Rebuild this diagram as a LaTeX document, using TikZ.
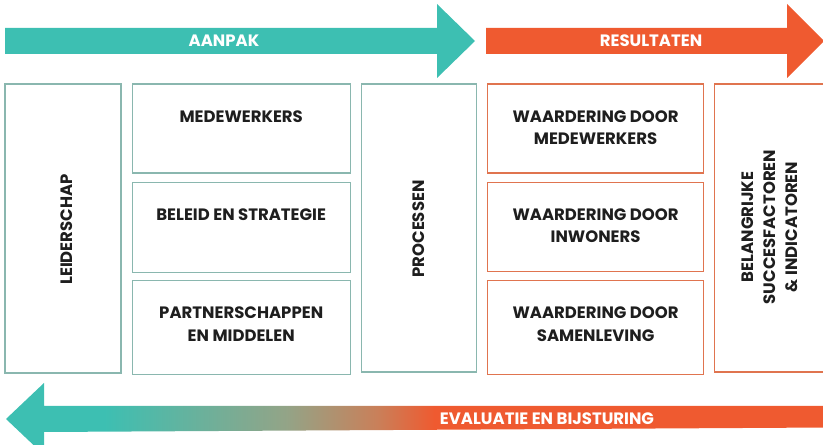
\documentclass[tikz,border=0pt]{standalone}
\usepackage{fontspec}
\setmainfont{Poppins}
\usetikzlibrary{positioning}
\definecolor{aanpakkleur}{HTML}{3DBFB2}
\definecolor{resultaatkleur}{HTML}{EF5A30}
\definecolor{aanpaklijn}{HTML}{8AB7AF}
\definecolor{resultaatlijn}{HTML}{E0744F}
\definecolor{overgang1}{HTML}{93A487}
\definecolor{overgang2}{HTML}{C9805A}
\definecolor{tekst}{HTML}{1E1E1E}
\pgfdeclarehorizontalshading{evaluatie}{100bp}{color(0bp)=(aanpakkleur); color(31bp)=(aanpakkleur); color(42bp)=(overgang1); color(47.5bp)=(overgang2); color(51bp)=(resultaatkleur); color(100bp)=(resultaatkleur)}
\newcommand\vakfont{\fontsize{16.5}{22.3}\selectfont\bfseries}
\newcommand\pijlfont{\fontsize{16.5}{20}\selectfont\bfseries}
\begin{document}
\begin{tikzpicture}[x=1pt, y=1pt, node distance=8pt, aanpak box/.style={rectangle, draw=aanpaklijn, line width=1.2pt}, result box/.style={rectangle, draw=resultaatlijn, line width=1.2pt}, vak tekst/.style={inner sep=0pt, align=center, font=\vakfont, text=tekst}, pijl tekst/.style={inner sep=0pt, font=\pijlfont, text=white}]
    \useasboundingbox (0,0) rectangle (823,445);
    \fill[aanpakkleur] (5,391) -- (437,391) -- (437,367) -- (475,404) -- (437,441) -- (437,417) -- (5,417) -- cycle;
    \fill[resultaatkleur] (486,391) -- (787,391) -- (787,367) -- (824,404) -- (787,441) -- (787,417) -- (486,417) -- cycle;
    \shade[shading=evaluatie] (6,26) -- (44,62) -- (44,39) -- (830,39) -- (830,17.5) -- (44,13) -- (44,-10) -- cycle;
    \node[pijl tekst](Aanpak) at (224,404){AANPAK};
    \node[pijl tekst](Result) at (651,404){RESULTATEN};
    \node[pijl tekst](Eval) at (547,26){EVALUATIE EN BIJSTURING};

    \node[aanpak box, minimum width=116pt, minimum height=289pt](Leid) at (63,216.5){};
    \node[aanpak box, minimum width=218pt, minimum height=89pt](Mw)[right=10pt of Leid.north east, anchor=north west]{};
    \node[aanpak box, minimum width=218pt, minimum height=90pt](Bs)[below=of Mw]{};
    \node[aanpak box, minimum width=218pt, minimum height=94pt](Pm)[below=7pt of Bs]{};
    \node[aanpak box, minimum width=115pt, minimum height=288pt](Proc)[right=10pt of Mw.north east, anchor=north west]{};
    \node[result box, minimum width=216pt, minimum height=89pt](Wm)[right=10pt of Proc.north east, anchor=north west]{};
    \node[result box, minimum width=216pt, minimum height=89pt](Wi)[below=of Wm]{};
    \node[result box, minimum width=216pt, minimum height=94pt](Ws)[below=of Wi]{};
    \node[result box, minimum width=120pt, minimum height=288pt](Bel)[right=10pt of Wm.north east, anchor=north west]{};

    \node[vak tekst, rotate=90](LeidT) at ([xshift=4pt, yshift=-1pt]Leid.center){LEIDERSCHAP};
    \node[vak tekst, rotate=90](ProcT) at ([yshift=-1pt]Proc.center){PROCESSEN};
    \node[vak tekst, rotate=90](BelT) at ([xshift=-5pt, yshift=1pt]Bel.center){BELANGRIJKE\\SUCCESFACTOREN\\\& INDICATOREN};
    \foreach \s/\t in {Mw/MEDEWERKERS, Bs/BELEID EN STRATEGIE, Pm/{PARTNERSCHAPPEN\\EN MIDDELEN}, Wm/{WAARDERING DOOR\\MEDEWERKERS}, Wi/{WAARDERING DOOR\\INWONERS}, Ws/{WAARDERING DOOR\\SAMENLEVING}}{
        \node[vak tekst](\s T)[below=27pt of \s.north]{\t};}
\end{tikzpicture}
\end{document}
